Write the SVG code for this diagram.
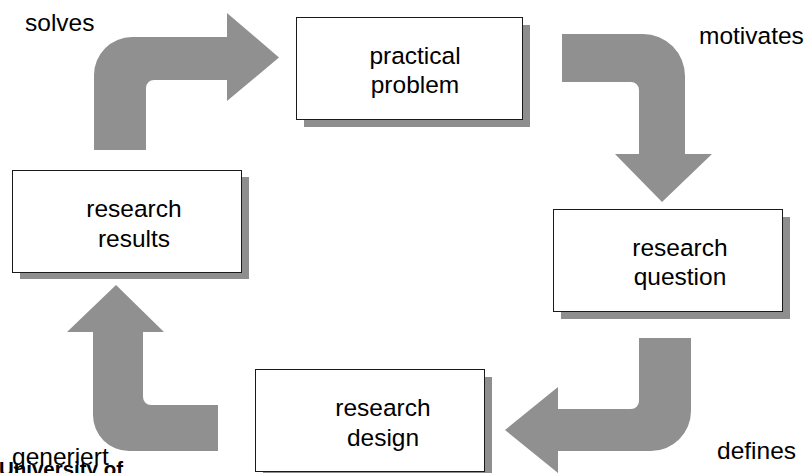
<svg xmlns="http://www.w3.org/2000/svg" width="810" height="473" viewBox="0 0 810 473">
<style>
.box{fill:#ffffff;stroke:#1a1a1a;stroke-width:1}
.shadow{fill:#8e8e8e}
.arrow{fill:#909090}
.t{font-family:"Liberation Sans",Arial,sans-serif;font-size:24.5px;fill:#000000}
.c{text-anchor:middle}
.logo{font-family:"Liberation Sans",Arial,sans-serif;font-size:20px;font-weight:bold;fill:#000000}
</style>
<rect width="810" height="473" fill="#ffffff"/>
<g id="connectors">
<path class="arrow" d="M94,150 L94,75 A38,38 0 0 1 132,37 L227,37 L227,13 L279,57.5 L227,101 L227,80 L154,80 A8,8 0 0 0 146,88 L146,150 Z"/>
<path class="arrow" d="M562,34 L643,34 A42,42 0 0 1 685,76 L685,154 L712,154 L662,202 L615,154 L639,154 L639,90 A8,8 0 0 0 631,82 L562,82 Z"/>
<path class="arrow" d="M639,338 L691,338 L691,411 A40,40 0 0 1 651,451 L558,451 L558,473 L505,430 L558,387 L558,409 L631,409 A8,8 0 0 0 639,401 Z"/>
<path class="arrow" d="M218,405 L151,405 A8,8 0 0 1 143,397 L143,332 L164,332 L116,285 L67,332 L93,332 L93,415 A36,36 0 0 0 129,451 L218,451 Z"/>
<text class="t" x="25" y="31">solves</text>
<text class="t" x="699" y="44">motivates</text>
<text class="t" x="717" y="459">defines</text>
<text class="t" x="12" y="465">generiert</text>
</g>
<g id="practical-problem">
<rect class="shadow" x="304" y="25" width="226" height="102"/>
<rect class="box" x="296.5" y="17.5" width="226" height="102"/>
<text class="t c" x="415" y="64">practical</text>
<text class="t c" x="415" y="93">problem</text>
</g>
<g id="research-question">
<rect class="shadow" x="561" y="217" width="229" height="102"/>
<rect class="box" x="553.5" y="209.5" width="229" height="102"/>
<text class="t c" x="680" y="256">research</text>
<text class="t c" x="680" y="285">question</text>
</g>
<g id="research-design">
<rect class="shadow" x="263" y="377" width="229" height="102"/>
<rect class="box" x="255.5" y="369.5" width="229" height="102"/>
<text class="t c" x="383" y="416">research</text>
<text class="t c" x="383" y="446">design</text>
</g>
<g id="research-results">
<rect class="shadow" x="20" y="177" width="229" height="102"/>
<rect class="box" x="12.5" y="170.5" width="229" height="102"/>
<text class="t c" x="134" y="217">research</text>
<text class="t c" x="134" y="247">results</text>
</g>
<text class="logo" x="-1" y="476" textLength="124" lengthAdjust="spacingAndGlyphs">University of</text>
</svg>
